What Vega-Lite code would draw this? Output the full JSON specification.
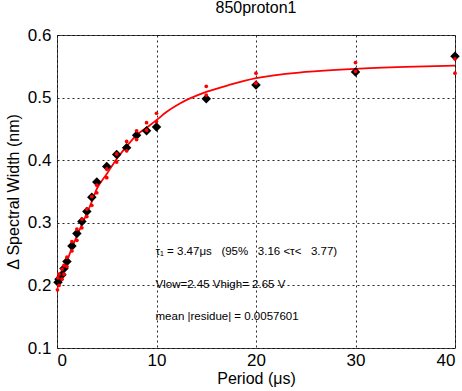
{
  "$schema": "https://vega.github.io/schema/vega-lite/v6.json",
  "autosize": {"type": "none"},
  "padding": {"left": 57, "top": 35, "right": 7, "bottom": 43},
  "width": 398,
  "height": 313,
  "background": "white",
  "title": {"text": "850proton1", "fontSize": 16, "font": "Liberation Sans", "fontWeight": "normal", "color": "black", "offset": 10, "anchor": "middle"},
  "config": {
    "view": {"stroke": "#444", "strokeWidth": 1},
    "axis": {
      "labelFont": "Liberation Sans", "labelFontSize": 17, "labelColor": "black",
      "titleFont": "Liberation Sans", "titleFontSize": 16, "titleFontWeight": "normal", "titleColor": "black",
      "grid": true, "gridColor": "black", "gridDash": [2, 3], "gridOpacity": 0.85,
      "domain": false, "ticks": false
    }
  },
  "datasets": {
    "fit": [
      {"t": 0, "v": 0.195}, {"t": 0.5, "v": 0.215}, {"t": 1, "v": 0.238}, {"t": 1.5, "v": 0.26},
      {"t": 2, "v": 0.279}, {"t": 2.5, "v": 0.297}, {"t": 3, "v": 0.315}, {"t": 3.5, "v": 0.334},
      {"t": 4, "v": 0.354}, {"t": 5, "v": 0.378}, {"t": 6, "v": 0.402}, {"t": 7, "v": 0.422},
      {"t": 8, "v": 0.44}, {"t": 9, "v": 0.452}, {"t": 10, "v": 0.464}, {"t": 11, "v": 0.477},
      {"t": 12.4, "v": 0.491}, {"t": 15, "v": 0.509}, {"t": 17.5, "v": 0.521}, {"t": 20, "v": 0.531},
      {"t": 25, "v": 0.541}, {"t": 30, "v": 0.546}, {"t": 35, "v": 0.549}, {"t": 40, "v": 0.551}
    ],
    "meas": [
      {"t": 0.1, "v": 0.205}, {"t": 0.2, "v": 0.21}, {"t": 0.5, "v": 0.217}, {"t": 0.7, "v": 0.227},
      {"t": 1, "v": 0.238}, {"t": 1.5, "v": 0.263}, {"t": 2, "v": 0.283}, {"t": 2.5, "v": 0.302},
      {"t": 3, "v": 0.318}, {"t": 3.5, "v": 0.341}, {"t": 4, "v": 0.365}, {"t": 5, "v": 0.39},
      {"t": 6, "v": 0.409}, {"t": 7, "v": 0.42}, {"t": 8, "v": 0.44}, {"t": 9, "v": 0.447},
      {"t": 10, "v": 0.453}, {"t": 15, "v": 0.498}, {"t": 20, "v": 0.52}, {"t": 30, "v": 0.541},
      {"t": 40, "v": 0.566}
    ],
    "bounds": [
      {"t": 0.05, "v": 0.193}, {"t": 0.1, "v": 0.212}, {"t": 0.2, "v": 0.2}, {"t": 0.2, "v": 0.218},
      {"t": 0.5, "v": 0.21}, {"t": 0.5, "v": 0.226}, {"t": 0.7, "v": 0.218}, {"t": 0.7, "v": 0.232},
      {"t": 1, "v": 0.23}, {"t": 1, "v": 0.245}, {"t": 1.5, "v": 0.255}, {"t": 1.5, "v": 0.27},
      {"t": 2, "v": 0.272}, {"t": 2, "v": 0.29}, {"t": 2.5, "v": 0.292}, {"t": 2.5, "v": 0.306},
      {"t": 3, "v": 0.31}, {"t": 3, "v": 0.322}, {"t": 3.5, "v": 0.328}, {"t": 3.5, "v": 0.342},
      {"t": 4, "v": 0.348}, {"t": 4, "v": 0.36}, {"t": 5, "v": 0.372}, {"t": 5, "v": 0.386},
      {"t": 6, "v": 0.397}, {"t": 6, "v": 0.41}, {"t": 7, "v": 0.415}, {"t": 7, "v": 0.43},
      {"t": 8, "v": 0.433}, {"t": 8, "v": 0.447}, {"t": 9, "v": 0.448}, {"t": 9, "v": 0.46},
      {"t": 10, "v": 0.462}, {"t": 10, "v": 0.475}, {"t": 15, "v": 0.504}, {"t": 15, "v": 0.518},
      {"t": 20, "v": 0.523}, {"t": 20, "v": 0.539}, {"t": 30, "v": 0.542}, {"t": 30, "v": 0.556},
      {"t": 40, "v": 0.539}, {"t": 40, "v": 0.562}
    ],
    "notes": [
      {"t": 9.9, "v": 0.253, "label": "τ₁ = 3.47μs \u00a0\u00a0(95%\u00a0\u00a0 3.16 <τ<\u00a0\u00a0 3.77)"},
      {"t": 9.9, "v": 0.2, "label": "Vlow=2.45 Vhigh= 2.65 V"},
      {"t": 9.9, "v": 0.15, "label": "mean |residue| = 0.0057601"}
    ]
  },
  "layer": [
    {
      "data": {"name": "fit"},
      "mark": {"type": "line", "color": "red", "strokeWidth": 1.8, "interpolate": "monotone", "clip": true},
      "encoding": {
        "x": {"field": "t", "type": "quantitative", "scale": {"domain": [0, 40], "nice": false},
          "axis": {"values": [0, 10, 20, 30, 40], "title": "Period (μs)", "labelPadding": 4, "titlePadding": 2}},
        "y": {"field": "v", "type": "quantitative", "scale": {"domain": [0.1, 0.6], "nice": false, "zero": false},
          "axis": {"values": [0.1, 0.2, 0.3, 0.4, 0.5, 0.6], "format": ".1f", "title": "Δ Spectral Width (nm)", "labelPadding": 6, "titlePadding": 6}}
      }
    },
    {
      "data": {"name": "meas"},
      "mark": {"type": "point", "shape": "diamond", "filled": true, "color": "black", "size": 90, "opacity": 1},
      "encoding": {
        "x": {"field": "t", "type": "quantitative"},
        "y": {"field": "v", "type": "quantitative"}
      }
    },
    {
      "data": {"name": "bounds"},
      "mark": {"type": "point", "shape": "circle", "filled": true, "color": "red", "size": 14, "opacity": 1},
      "encoding": {
        "x": {"field": "t", "type": "quantitative"},
        "y": {"field": "v", "type": "quantitative"}
      }
    },
    {
      "data": {"name": "notes"},
      "mark": {"type": "text", "align": "left", "baseline": "middle", "font": "Liberation Sans", "fontSize": 11.5, "color": "black"},
      "encoding": {
        "x": {"field": "t", "type": "quantitative"},
        "y": {"field": "v", "type": "quantitative"},
        "text": {"field": "label"}
      }
    }
  ]
}
